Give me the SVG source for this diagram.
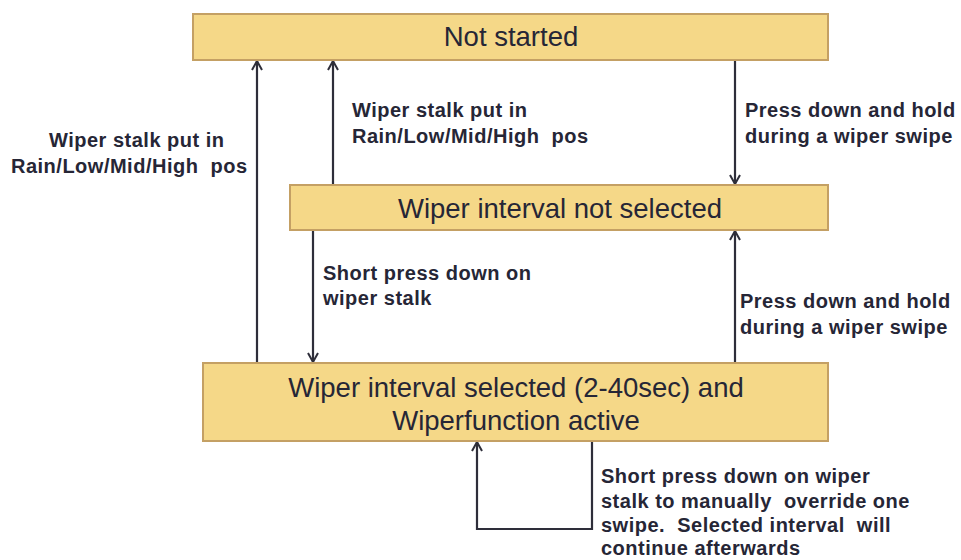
<svg xmlns="http://www.w3.org/2000/svg" width="961" height="560" viewBox="0 0 961 560">
<defs>
<style>
.box{fill:#F5D888;stroke:#C4A064;stroke-width:2}
.bt{font-family:"Liberation Sans",Arial,sans-serif;font-size:27.5px;fill:#262636;text-anchor:middle}
.lb{font-family:"Liberation Sans",Arial,sans-serif;font-size:20px;font-weight:bold;fill:#262636;letter-spacing:0.5px}
.ln{fill:none;stroke:#2E2E3A;stroke-width:2.2}
</style>
<marker id="ah" viewBox="0 0 12 12" refX="11" refY="6" markerWidth="12" markerHeight="12" markerUnits="userSpaceOnUse" orient="auto">
<path d="M2,1 L11,6 L2,11" fill="none" stroke="#2E2E3A" stroke-width="2"/>
</marker>
</defs>
<rect width="961" height="560" fill="#FFFFFF"/>
<g id="connectors">
<path class="ln" d="M257,363 V61" marker-end="url(#ah)"/>
<path class="ln" d="M333,185 V61" marker-end="url(#ah)"/>
<path class="ln" d="M735,60 V184" marker-end="url(#ah)"/>
<path class="ln" d="M313,230 V362" marker-end="url(#ah)"/>
<path class="ln" d="M735,363 V231" marker-end="url(#ah)"/>
<path class="ln" d="M592,441 V529 H477 V442" marker-end="url(#ah)"/>
</g>
<g id="node-not-started">
<rect class="box" x="193" y="14" width="635" height="46"/>
<text class="bt" x="511" y="46">Not started</text>
</g>
<g id="node-not-selected">
<rect class="box" x="290" y="185" width="538" height="45"/>
<text class="bt" x="560" y="218">Wiper interval not selected</text>
</g>
<g id="node-selected">
<rect class="box" x="203" y="363" width="625" height="78"/>
<text class="bt" x="516" y="397">Wiper interval selected (2-40sec) and</text>
<text class="bt" x="516" y="430">Wiperfunction active</text>
</g>
<g id="labels">
<text class="lb" x="49" y="147">Wiper stalk put in</text>
<text class="lb" x="11" y="173" xml:space="preserve">Rain/Low/Mid/High  pos</text>
<text class="lb" x="352" y="117">Wiper stalk put in</text>
<text class="lb" x="352" y="143" xml:space="preserve">Rain/Low/Mid/High  pos</text>
<text class="lb" x="745" y="117">Press down and hold</text>
<text class="lb" x="745" y="143">during a wiper swipe</text>
<text class="lb" x="323" y="280">Short press down on</text>
<text class="lb" x="323" y="305">wiper stalk</text>
<text class="lb" x="740" y="308">Press down and hold</text>
<text class="lb" x="740" y="334">during a wiper swipe</text>
<text class="lb" x="601" y="483">Short press down on wiper</text>
<text class="lb" x="601" y="508" xml:space="preserve">stalk to manually  override one</text>
<text class="lb" x="601" y="532" xml:space="preserve">swipe.  Selected interval  will</text>
<text class="lb" x="601" y="555">continue afterwards</text>
</g>
</svg>
